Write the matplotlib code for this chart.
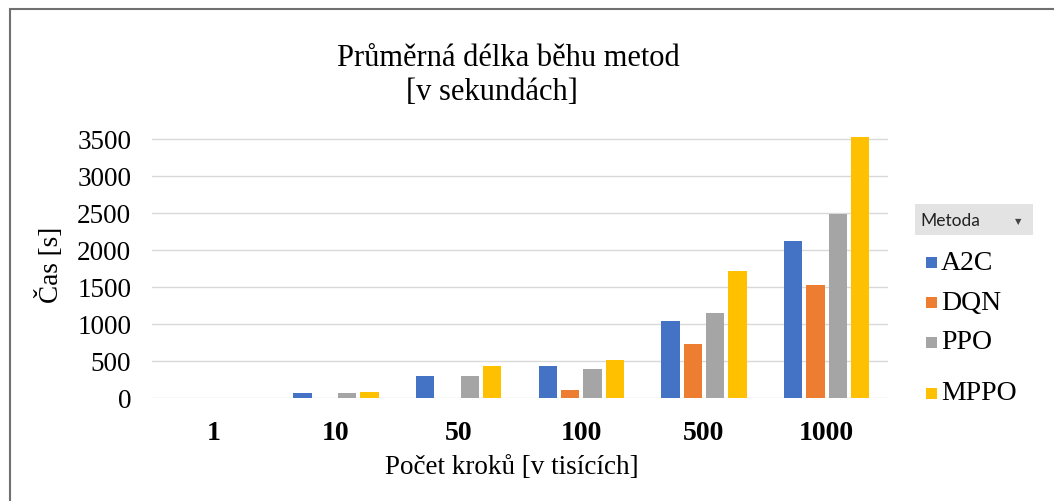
import matplotlib
matplotlib.use("Agg")
import matplotlib.pyplot as plt
import numpy as np
from matplotlib.patches import Rectangle

# data
steps = ["1", "10", "50", "100", "500", "1000"]
methods = ["A2C", "DQN", "PPO", "MPPO"]
a2c = [0, 55, 290, 425, 1040, 2115]
dqn = [0, 0, 0, 105, 722, 1520]
ppo = [0, 55, 290, 385, 1140, 2478]
mppo = [0, 75, 425, 505, 1705, 3522]
yticks = [0, 500, 1000, 1500, 2000, 2500, 3000, 3500]

COLORS = ["#4472C4", "#ED7D31", "#A5A5A5", "#FFC000"]
SERIF = "Liberation Serif"

W, H = 1054, 502
fig = plt.figure(figsize=(W / 100, H / 100), dpi=100)

# axes placed in pixel terms of the reference
ax = fig.add_axes([152 / W, 1 - 398.5 / H, 736 / W, (398.5 - 136) / H])

x = np.arange(len(steps))
bw, step = 0.147, 0.182
for i, (vals, c) in enumerate(zip([a2c, dqn, ppo, mppo], COLORS)):
    ax.bar(x + (i - 1.5) * step, vals, width=bw, color=c, zorder=3)

ax.set_xlim(-0.5, len(steps) - 0.5)
ax.set_ylim(0, 3550)
ax.set_yticks(yticks)
ax.set_xticks(x)
ax.set_xticklabels(steps, fontfamily=SERIF, fontweight="bold", fontsize=20)
for lbl in ax.get_yticklabels():
    lbl.set_fontfamily(SERIF)
    lbl.set_fontsize(19.5)
ax.tick_params(axis="y", length=0, pad=15)
ax.tick_params(axis="x", length=0, pad=16)
ax.grid(axis="y", color="#d9d9d9", lw=1, zorder=0)
for s in ax.spines.values():
    s.set_visible(False)

ax.set_ylabel("Čas [s]", fontfamily=SERIF, fontsize=19.5)
ax.yaxis.set_label_coords(-0.1386, 0.508)
ax.set_xlabel("Počet kroků [v tisících]", fontfamily=SERIF, fontsize=19.5)
ax.xaxis.set_label_coords(0.489, -0.261)
ax.xaxis.label.set_va("center")
ax.yaxis.label.set_va("center")

# title (two lines, centred slightly differently as in the source)
fig.text(508 / W, 1 - 58 / H, "Průměrná délka běhu metod", fontfamily=SERIF,
         fontsize=22, ha="center", va="center")
fig.text(492 / W, 1 - 92 / H, "[v sekundách]", fontfamily=SERIF,
         fontsize=22, ha="center", va="center")

# pivot-style legend on the right
fig.patches.append(Rectangle((915 / W, 1 - 236 / H), 118 / W, 31 / H,
                             transform=fig.transFigure, facecolor="#e3e3e3",
                             edgecolor="none"))
fig.text(920 / W, 1 - 221 / H, "Metoda", fontfamily="Lato", fontsize=12.5,
         ha="left", va="center", color="#222222")
fig.text(1018 / W, 1 - 222 / H, "▼", fontfamily="DejaVu Sans", fontsize=6,
         ha="center", va="center", color="#444444")
leg_y = [263, 303, 343, 394]
for name, c, yy in zip(methods, COLORS, leg_y):
    fig.patches.append(Rectangle((926 / W, 1 - (yy + 5.5) / H), 11 / W, 11 / H,
                                 transform=fig.transFigure, facecolor=c,
                                 edgecolor="none"))
    fig.text(941 / W, 1 - yy / H, name, fontfamily=SERIF, fontsize=20,
             ha="left", va="center")

# chart border (only top and left visible in the crop)
fig.patches.append(Rectangle((10 / W, -0.1), 1.2, 1 - 10 / H + 0.1,
                             transform=fig.transFigure, facecolor="none",
                             edgecolor="#707070", lw=1.5))

fig.savefig("out.png", dpi=100)
